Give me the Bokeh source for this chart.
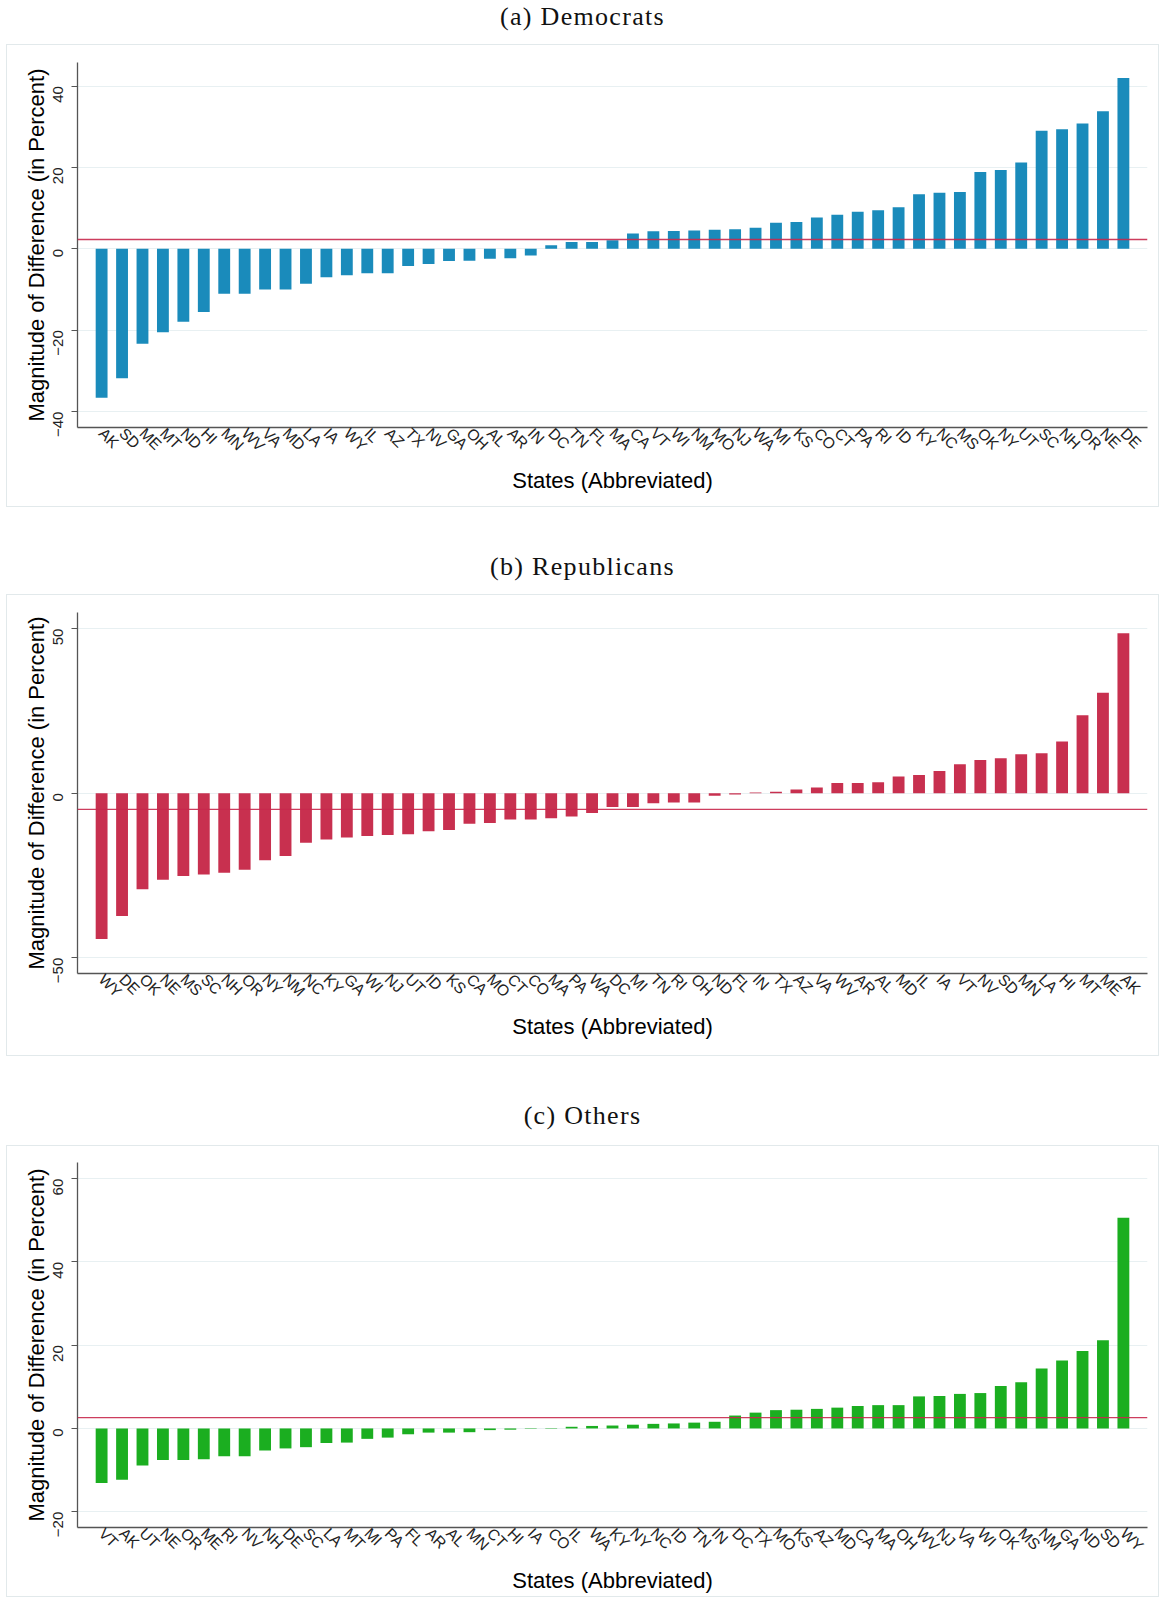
import math
from bokeh.plotting import figure
from bokeh.models import Range1d, FactorRange, Span, Div, ColumnDataSource, FixedTicker
from bokeh.layouts import column
from bokeh.embed import file_html
from bokeh.resources import INLINE

# ---------------- data ----------------
dem_states = ["AK", "SD", "ME", "MT", "ND", "HI", "MN", "WV", "VA", "MD", "LA", "IA", "WY",
              "IL", "AZ", "TX", "NV", "GA", "OH", "AL", "AR", "IN", "DC", "TN", "FL", "MA",
              "CA", "VT", "WI", "NM", "MO", "NJ", "WA", "MI", "KS", "CO", "CT", "PA", "RI",
              "ID", "KY", "NC", "MS", "OK", "NY", "UT", "SC", "NH", "OR", "NE", "DE"]
dem_values = [-36.6, -31.8, -23.3, -20.5, -17.9, -15.5, -11.0, -11.0, -10.0, -10.0, -8.6, -7.0,
              -6.5, -6.0, -6.0, -4.2, -3.7, -3.0, -2.9, -2.4, -2.3, -1.6, 0.9, 1.7, 1.7, 2.1,
              3.8, 4.3, 4.4, 4.5, 4.7, 4.8, 5.2, 6.4, 6.6, 7.7, 8.4, 9.1, 9.5, 10.2, 13.4,
              13.8, 14.0, 18.9, 19.4, 21.2, 29.0, 29.4, 30.8, 33.8, 42.0]
dem_ref = 2.3
dem_ticks = [-40, -20, 0, 20, 40]

rep_states = ["WY", "DE", "OK", "NE", "MS", "SC", "NH", "OR", "NY", "NM", "NC", "KY", "GA",
              "WI", "NJ", "UT", "ID", "KS", "CA", "MO", "CT", "CO", "MA", "PA", "WA", "DC",
              "MI", "TN", "RI", "OH", "ND", "FL", "IN", "TX", "AZ", "VA", "WV", "AR", "AL",
              "MD", "IL", "IA", "VT", "NV", "SD", "MN", "LA", "HI", "MT", "ME", "AK"]
rep_values = [-44.3, -37.3, -29.2, -26.3, -25.2, -24.7, -24.2, -23.3, -20.4, -19.1, -15.1,
              -14.1, -13.5, -13.0, -12.7, -12.5, -11.6, -11.2, -9.3, -9.1, -8.0, -8.0, -7.6,
              -7.1, -6.0, -4.2, -4.2, -3.1, -2.8, -2.8, -0.8, -0.4, 0.2, 0.4, 1.1, 1.7, 3.1,
              3.1, 3.3, 5.1, 5.5, 6.7, 8.8, 10.1, 10.6, 11.8, 12.1, 15.7, 23.7, 30.5, 48.6]
rep_ref = -4.9
rep_ticks = [-50, 0, 50]

oth_states = ["VT", "AK", "UT", "NE", "OR", "ME", "RI", "NV", "NH", "DE", "SC", "LA", "MT",
              "MI", "PA", "FL", "AR", "AL", "MN", "CT", "HI", "IA", "CO", "IL", "WA", "KY",
              "NY", "NC", "ID", "TN", "IN", "DC", "TX", "MO", "KS", "AZ", "MD", "CA", "MA",
              "OH", "WV", "NJ", "VA", "WI", "OK", "MS", "NM", "GA", "ND", "SD", "WY"]
oth_values = [-13.1, -12.3, -8.9, -7.6, -7.6, -7.4, -6.7, -6.7, -5.3, -4.8, -4.5, -3.5, -3.4,
              -2.5, -2.2, -1.4, -1.0, -1.0, -0.9, -0.4, -0.3, -0.1, 0.1, 0.4, 0.6, 0.7, 0.9,
              1.1, 1.2, 1.4, 1.6, 3.1, 3.8, 4.4, 4.5, 4.7, 5.0, 5.4, 5.6, 5.6, 7.7, 7.8, 8.3,
              8.5, 10.2, 11.1, 14.4, 16.3, 18.6, 21.2, 50.6]
oth_ref = 2.6
oth_ticks = [-20, 0, 20, 40, 60]

titles = ["(a) Democrats", "(b) Republicans", "(c) Others"]
y_label = "Magnitude of Difference (in Percent)"
x_label = "States (Abbreviated)"

BLUE = "#1a8bbb"
RED = "#c8304f"
GREEN = "#1bae20"
LINE_RED = "#c8284c"
W = 1153


def panel(states, values, ref, color, yr, yticks, height, top, bottom):
    src = ColumnDataSource(dict(state=states, value=values))
    p = figure(x_range=FactorRange(factors=states, range_padding=0.68,
                                   range_padding_units="absolute"),
               y_range=Range1d(*yr), width=W, height=height,
               output_backend="svg", toolbar_location=None,
               min_border_left=70, min_border_right=13,
               min_border_top=top, min_border_bottom=bottom,
               styles={"border": "1px solid #e2e9eb", "margin-left": "6px"})
    p.vbar(x="state", top="value", bottom=0, width=0.58, source=src,
           fill_color=color, line_color=None)
    p.add_layout(Span(location=ref, dimension="width", line_color=LINE_RED,
                      line_width=1.3, line_alpha=0.9))
    p.outline_line_color = None
    p.xgrid.grid_line_color = None
    p.ygrid.ticker = FixedTicker(ticks=yticks)
    p.ygrid.grid_line_color = "#e8f0f2"
    p.ygrid.grid_line_width = 1.2

    ya = p.yaxis[0]
    ya.ticker = FixedTicker(ticks=yticks)
    ya.major_label_orientation = math.pi / 2
    ya.major_label_text_font = "Liberation Sans"
    ya.major_label_text_font_size = "15px"
    ya.major_label_text_color = "#222222"
    ya.major_tick_out = 6
    ya.major_tick_in = 0
    ya.minor_tick_out = 0
    ya.minor_tick_in = 0
    ya.major_tick_line_color = "#555555"
    ya.axis_line_color = "#555555"
    ya.axis_line_width = 1.3
    ya.major_label_standoff = 13
    ya.axis_label = y_label
    ya.axis_label_text_font = "Liberation Sans"
    ya.axis_label_text_font_size = "22px"
    ya.axis_label_text_font_style = "normal"
    ya.axis_label_text_color = "#000000"
    ya.axis_label_standoff = -3

    xa = p.xaxis[0]
    xa.major_label_orientation = -math.pi / 4
    xa.major_label_text_font = "Liberation Sans"
    xa.major_label_text_font_size = "15.5px"
    xa.major_label_text_color = "#222222"
    xa.major_tick_out = 0
    xa.major_tick_in = 0
    xa.axis_line_color = "#555555"
    xa.axis_line_width = 1.3
    xa.major_label_standoff = 3
    xa.axis_label = x_label
    xa.axis_label_text_font = "Liberation Sans"
    xa.axis_label_text_font_size = "22px"
    xa.axis_label_text_font_style = "normal"
    xa.axis_label_text_color = "#000000"
    xa.axis_label_standoff = 5
    return p


def title_div(text, height, pad):
    return Div(text=f'<div style="margin-top:{pad}px; line-height:18px; text-align:center; '
                    f'width:{W}px; font-family:\'Liberation Serif\'; font-size:26px; '
                    f'letter-spacing:1.3px; color:#111;">{text}</div>',
               width=W, height=height, styles={"margin-left": "6px"})


p1 = panel(dem_states, dem_values, dem_ref, BLUE, (-43.9, 45.8), dem_ticks, 463, 17, 81)
p2 = panel(rep_states, rep_values, rep_ref, RED, (-54.8, 54.9), rep_ticks, 462, 17, 84)
p3 = panel(oth_states, oth_values, oth_ref, GREEN, (-23.8, 63.9), oth_ticks, 452, 16, 71)

layout = column(title_div(titles[0], 34, 3), p1,
                title_div(titles[1], 77, 46), p2,
                title_div(titles[2], 79, 46), p3,
                spacing=0)

open("out.html", "w").write(file_html(layout, INLINE))
